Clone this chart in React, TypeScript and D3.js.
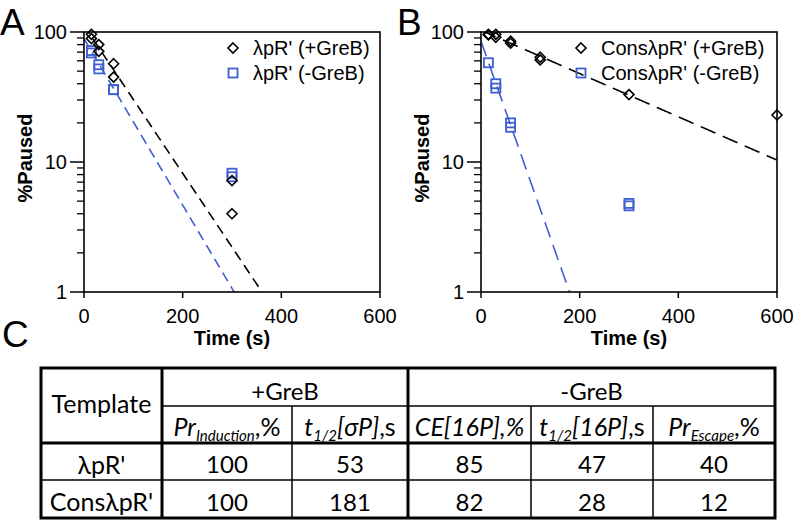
import React from "react";
import * as d3 from "d3";

// ---------- Panel A data ----------
const timesAPlus = [15, 15, 30, 30, 60, 60, 300, 300];
const pausedAPlus = [96, 89, 80, 71, 57, 45, 7.2, 4.0];
const timesAMinus = [15, 15, 30, 30, 60, 60, 300, 300];
const pausedAMinus = [72, 69, 56, 52, 36, 36, 8.2, 7.7];

// ---------- Panel B data ----------
const timesBPlus = [15, 15, 30, 30, 60, 60, 120, 120, 300, 600];
const pausedBPlus = [96, 95, 96, 91, 85, 82, 64, 61, 33, 23];
const timesBMinus = [15, 30, 30, 60, 60, 300, 300];
const pausedBMinus = [58, 40, 37, 20, 18.5, 4.8, 4.6];

// ---------- fitted single-exponential curves [amplitude %, half-life s] ----------
const fitAPlus = [112, 53];
const fitAMinus = [89, 47];
const fitBPlus = [103, 181];
const fitBMinus = [85, 28];

// ---------- axes ----------
const xTicks = [0, 200, 400, 600];
const yMajor = [1, 10, 100];
const yMinor = [2, 3, 4, 5, 6, 7, 8, 9, 20, 30, 40, 50, 60, 70, 80, 90];

// ---------- legend labels ----------
const legendA = ["λpR' (+GreB)", "λpR' (-GreB)"];
const legendB = ["ConsλpR' (+GreB)", "ConsλpR' (-GreB)"];

// ---------- table ----------
const templates = ["λpR'", "ConsλpR'"];
const prInduction = [100, 100];
const tHalfSigmaP = [53, 181];
const ce16P = [85, 82];
const tHalf16P = [47, 28];
const prEscape = [40, 12];

const BLUE = "#3d5fd3";
const FONT = "'Liberation Sans', Arial, Helvetica, sans-serif";
const TFONT = "Lato, 'Open Sans', sans-serif";

const PLOT_W = 296;
const TOP = 32;
const BOTTOM = 292;

function diamond(r: number) {
  return `M0,${-r}L${r},0L0,${r}L${-r},0Z`;
}

type PanelProps = {
  id: string;
  left: number;
  letter: string;
  plusT: number[];
  plusV: number[];
  minusT: number[];
  minusV: number[];
  fitPlus: number[];
  fitMinus: number[];
  legend: string[];
  legendX: number;
  dash: string;
};

function Panel(p: PanelProps) {
  const x = d3.scaleLinear().domain([0, 600]).range([p.left, p.left + PLOT_W]);
  const y = d3.scaleLog().domain([1, 100]).range([BOTTOM, TOP]);
  const ts = d3.range(0, 601, 2);
  const fitLine = (f: number[]) =>
    d3
      .line<number>()
      .x((t) => x(t))
      .y((t) => y(f[0] * Math.exp((-Math.LN2 / f[1]) * t)))(ts.filter((t) => f[0] * Math.exp((-Math.LN2 / f[1]) * t) > 0.5)) || "";
  const clipId = "clip" + p.id;
  return (
    <g>
      <defs>
        <clipPath id={clipId}>
          <rect x={p.left} y={TOP} width={PLOT_W} height={BOTTOM - TOP} />
        </clipPath>
      </defs>
      <text x={p.left - 84} y={35} fontFamily={FONT} fontSize={37}>
        {p.letter}
      </text>
      {/* fit lines */}
      <g clipPath={`url(#${clipId})`}>
        <path d={fitLine(p.fitPlus)} fill="none" stroke="#000" strokeWidth={1.6} strokeDasharray={p.dash} />
        <path d={fitLine(p.fitMinus)} fill="none" stroke={BLUE} strokeWidth={1.6} strokeDasharray={p.dash} />
      </g>
      {/* frame */}
      <rect x={p.left} y={TOP} width={PLOT_W} height={BOTTOM - TOP} fill="none" stroke="#000" strokeWidth={1.6} />
      {/* y ticks */}
      {yMajor.map((v) => (
        <g key={"ym" + v}>
          <line x1={p.left - 14} x2={p.left} y1={y(v)} y2={y(v)} stroke="#000" strokeWidth={1.5} />
          <text x={p.left - 17} y={y(v)} textAnchor="end" dominantBaseline="central" fontFamily={FONT} fontSize={20}>
            {v}
          </text>
        </g>
      ))}
      {yMinor.map((v) => (
        <line key={"yn" + v} x1={p.left - 7} x2={p.left} y1={y(v)} y2={y(v)} stroke="#000" strokeWidth={1.3} />
      ))}
      {/* x ticks */}
      {xTicks.map((t) => (
        <g key={"xt" + t}>
          <line x1={x(t)} x2={x(t)} y1={BOTTOM} y2={BOTTOM + 6} stroke="#000" strokeWidth={1.5} />
          <text x={x(t)} y={323} textAnchor="middle" fontFamily={FONT} fontSize={20}>
            {t}
          </text>
        </g>
      ))}
      <text x={p.left + PLOT_W / 2} y={345} textAnchor="middle" fontFamily={FONT} fontWeight="bold" fontSize={20}>
        Time (s)
      </text>
      <text
        transform={`translate(${p.left - 52},${(TOP + BOTTOM) / 2 - 4}) rotate(-90)`}
        textAnchor="middle"
        fontFamily={FONT}
        fontWeight="bold"
        fontSize={20}
      >
        %Paused
      </text>
      {/* markers */}
      {p.minusT.map((t, i) => (
        <rect
          key={"m" + i}
          x={x(t) - 4.5}
          y={y(p.minusV[i]) - 4.5}
          width={9}
          height={9}
          fill="none"
          stroke={BLUE}
          strokeWidth={1.8}
        />
      ))}
      {p.plusT.map((t, i) => (
        <path
          key={"p" + i}
          d={diamond(5)}
          transform={`translate(${x(t)},${y(p.plusV[i])})`}
          fill="none"
          stroke="#000"
          strokeWidth={1.6}
        />
      ))}
      {/* legend */}
      <path d={diamond(5)} transform={`translate(${p.legendX},48)`} fill="none" stroke="#000" strokeWidth={1.6} />
      <rect x={p.legendX - 4.5} y={73 - 4.5} width={9} height={9} fill="none" stroke={BLUE} strokeWidth={1.8} />
      <text x={p.legendX + 20} y={48} dominantBaseline="central" fontFamily={FONT} fontSize={20}>
        {p.legend[0]}
      </text>
      <text x={p.legendX + 20} y={73} dominantBaseline="central" fontFamily={FONT} fontSize={20}>
        {p.legend[1]}
      </text>
    </g>
  );
}

function Table() {
  const colX = [41, 162, 292, 408, 531, 653, 775];
  const rowY = [368, 406, 443, 480, 518];
  const cx = (i: number) => (colX[i] + colX[i + 1]) / 2;
  const cy = (i: number) => (rowY[i] + rowY[i + 1]) / 2;
  const rows = templates.map((t, i) => [t, prInduction[i], tHalfSigmaP[i], ce16P[i], tHalf16P[i], prEscape[i]]);
  const thin = 1.5;
  const thick = 3;
  const fs = 24;
  const hs = 25;
  const sub = 15;
  return (
    <g fontFamily={TFONT} fontSize={fs} fill="#000">
      <text x={2} y={347} fontFamily={FONT} fontSize={37}>
        C
      </text>
      {/* thin lines */}
      <line x1={colX[1]} x2={colX[6]} y1={rowY[1]} y2={rowY[1]} stroke="#000" strokeWidth={thin} />
      <line x1={colX[0]} x2={colX[6]} y1={rowY[3]} y2={rowY[3]} stroke="#000" strokeWidth={thin} />
      {[2, 4, 5].map((c) => (
        <line key={c} x1={colX[c]} x2={colX[c]} y1={rowY[1]} y2={rowY[4]} stroke="#000" strokeWidth={thin} />
      ))}
      {/* thick lines */}
      <line x1={colX[0]} x2={colX[6]} y1={rowY[2]} y2={rowY[2]} stroke="#000" strokeWidth={thick} />
      <line x1={colX[1]} x2={colX[1]} y1={rowY[0]} y2={rowY[4]} stroke="#000" strokeWidth={thick} />
      <line x1={colX[3]} x2={colX[3]} y1={rowY[0]} y2={rowY[4]} stroke="#000" strokeWidth={thick} />
      <rect x={colX[0]} y={rowY[0]} width={colX[6] - colX[0]} height={rowY[4] - rowY[0]} fill="none" stroke="#000" strokeWidth={thick} />
      {/* headers */}
      <text x={cx(0)} y={rowY[1] - 3} textAnchor="middle" dominantBaseline="central" fontSize={hs}>
        Template
      </text>
      <text x={(colX[1] + colX[3]) / 2} y={cy(0) + 3} textAnchor="middle" dominantBaseline="central">
        +GreB
      </text>
      <text x={(colX[3] + colX[6]) / 2} y={cy(0) + 3} textAnchor="middle" dominantBaseline="central">
        -GreB
      </text>
      <g fontSize={hs}>
        <text x={cx(1)} y={cy(1) + 11} textAnchor="middle">
          <tspan fontStyle="italic">Pr</tspan>
          <tspan fontStyle="italic" fontSize={sub} dy={5}>
            Induction
          </tspan>
          <tspan dy={-5}>,%</tspan>
        </text>
        <text x={cx(2)} y={cy(1) + 11} textAnchor="middle">
          <tspan fontStyle="italic">t</tspan>
          <tspan fontStyle="italic" fontSize={sub} dy={5}>
            1/2
          </tspan>
          <tspan fontStyle="italic" dy={-5}>
            [σP]
          </tspan>
          <tspan>,s</tspan>
        </text>
        <text x={cx(3)} y={cy(1) + 11} textAnchor="middle" fontStyle="italic">
          CE[16P],%
        </text>
        <text x={cx(4)} y={cy(1) + 11} textAnchor="middle">
          <tspan fontStyle="italic">t</tspan>
          <tspan fontStyle="italic" fontSize={sub} dy={5}>
            1/2
          </tspan>
          <tspan fontStyle="italic" dy={-5}>
            [16P]
          </tspan>
          <tspan>,s</tspan>
        </text>
        <text x={cx(5)} y={cy(1) + 11} textAnchor="middle">
          <tspan fontStyle="italic">Pr</tspan>
          <tspan fontStyle="italic" fontSize={sub} dy={5}>
            Escape
          </tspan>
          <tspan dy={-5}>,%</tspan>
        </text>
      </g>
      {/* data rows */}
      {rows.map((r, ri) =>
        r.map((v, ci) => (
          <text key={ri + "-" + ci} x={cx(ci)} y={cy(ri + 2) + 2} textAnchor="middle" dominantBaseline="central" fontSize={ci === 0 ? hs : fs}>
            {v}
          </text>
        ))
      )}
    </g>
  );
}

export default function App() {
  return (
    <div style={{ position: "absolute", left: 0, top: 0 }}>
      <svg width={796} height={523} viewBox="0 0 796 523" style={{ display: "block", background: "#fff" }}>
        <rect width={796} height={523} fill="#fff" />
        <Panel
          id="A"
          left={84}
          letter="A"
          plusT={timesAPlus}
          plusV={pausedAPlus}
          minusT={timesAMinus}
          minusV={pausedAMinus}
          fitPlus={fitAPlus}
          fitMinus={fitAMinus}
          legend={legendA}
          legendX={233}
          dash="10,6"
        />
        <Panel
          id="B"
          left={481}
          letter="B"
          plusT={timesBPlus}
          plusV={pausedBPlus}
          minusT={timesBMinus}
          minusV={pausedBMinus}
          fitPlus={fitBPlus}
          fitMinus={fitBMinus}
          legend={legendB}
          legendX={581}
          dash="16,8"
        />
        <Table />
      </svg>
    </div>
  );
}
